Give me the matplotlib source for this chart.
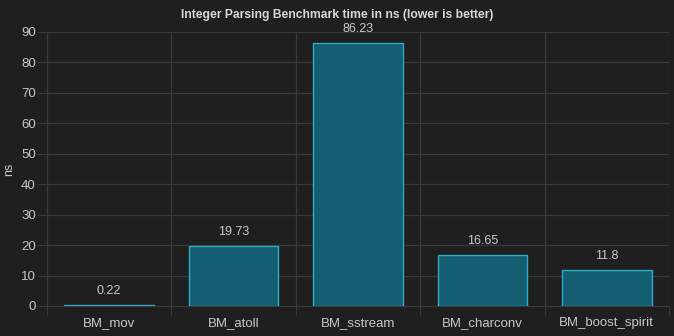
import numpy as np
import matplotlib
matplotlib.use("Agg")
import matplotlib.pyplot as plt

benchmarks = ["BM_mov", "BM_atoll", "BM_sstream", "BM_charconv", "BM_boost_spirit"]
times_ns = [0.22, 19.73, 86.23, 16.65, 11.8]
value_labels = ["0.22", "19.73", "86.23", "16.65", "11.8"]
y_ticks = [0, 10, 20, 30, 40, 50, 60, 70, 80, 90]

plt.rcParams['font.family'] = ['Liberation Sans', 'DejaVu Sans']

bg = "#1f1f1f"
grid_col = "#3a3a3a"
text_col = "#c8c8c8"

fig = plt.figure(figsize=(6.74, 3.36), dpi=100, facecolor=bg)
ax = fig.add_axes([0.0697, 0.0893, 0.9229, 0.8155], facecolor=bg)

x = np.arange(len(benchmarks))
ax.bar(x, times_ns, width=0.72, color="#135f71", edgecolor="#2fa9c4", linewidth=1.0, zorder=3)

for xi, v, lab in zip(x, times_ns, value_labels):
    ax.annotate(lab, (xi, v), xytext=(0, 6), textcoords="offset points",
                ha="center", va="bottom", color=text_col, fontsize=9)

ax.set_xlim(-0.5, len(benchmarks) - 0.5)
ax.set_ylim(0, 90)
ax.set_yticks(y_ticks)
ax.set_xticks(x)
ax.set_xticklabels(benchmarks)
ax.set_xticks(np.arange(-0.5, len(benchmarks)), minor=True)

ax.tick_params(axis="x", which="major", length=0, pad=8, colors=text_col, labelsize=9.5)
ax.tick_params(axis="x", which="minor", length=7, color=grid_col)
ax.tick_params(axis="y", length=7, color=grid_col, colors=text_col, labelsize=9.5, pad=1)

ax.grid(axis="y", color=grid_col, linewidth=0.9, zorder=0)
ax.grid(axis="x", which="minor", color=grid_col, linewidth=0.9, zorder=0)

for s in ["top", "right"]:
    ax.spines[s].set_visible(False)
ax.spines["left"].set_color(grid_col)
ax.spines["bottom"].set_color(grid_col)

# y axis title placed by hand so it is not clipped
fig.text(9 / 674, 1 - 169 / 336, "ns", rotation=90, ha="center", va="center",
         color=text_col, fontsize=9)
fig.text(0.5, 0.955, "Integer Parsing Benchmark time in ns (lower is better)",
         ha="center", va="center", color="#d8d8d8", fontsize=8.7, fontweight="bold")

fig.savefig("out.png", dpi=100, facecolor=bg)
